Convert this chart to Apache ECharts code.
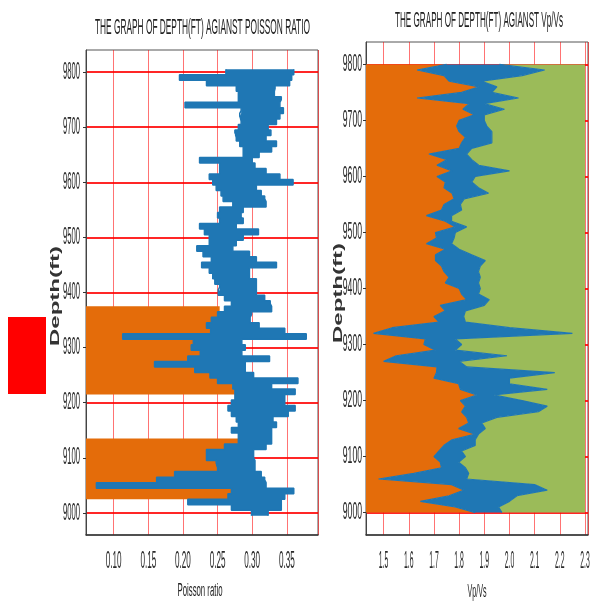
<!DOCTYPE html>
<html><head><meta charset="utf-8">
<script src="https://cdn.jsdelivr.net/npm/echarts@6/dist/echarts.min.js"></script>
<style>html,body{margin:0;padding:0;background:#fff}#c{width:590px;height:606px}</style>
</head><body><div id="c"></div><script>
// ---- data ----
const AXIS_DEPTHS = [8960,8970,8980,8990,9000,9010,9020,9030,9040,9050,9060,9070,9080,9090,9100,9110,9120,9130,9140,9150,9160,9170,9180,9190,9200,9210,9220,9230,9240,9250,9260,9270,9280,9290,9300,9310,9320,9330,9340,9350,9360,9370,9380,9390,9400,9410,9420,9430,9440,9450,9460,9470,9480,9490,9500,9510,9520,9530,9540,9550,9560,9570,9580,9590,9600,9610,9620,9630,9640,9650,9660,9670,9680,9690,9700,9710,9720,9730,9740,9750,9760,9770,9780,9790,9800,9810,9820,9830,9840];
const DEPTH_TICKS = [9000,9100,9200,9300,9400,9500,9600,9700,9800];
const PR_TICKS = [0.10,0.15,0.20,0.25,0.30,0.35];
const VPVS_TICKS = [1.5,1.6,1.7,1.8,1.9,2.0,2.1,2.2,2.3];

const DEPTHS = [9800,9790,9780,9770,9760,9750,9740,9730,9720,9710,9700,9690,9680,9670,9660,9650,9640,9630,9620,9610,9600,9590,9580,9570,9560,9550,9540,9530,9520,9510,9500,9490,9480,9470,9460,9450,9440,9430,9420,9410,9400,9390,9380,9370,9360,9350,9340,9330,9320,9310,9300,9290,9280,9270,9260,9250,9240,9230,9220,9210,9200,9190,9180,9170,9160,9150,9140,9130,9120,9110,9100,9090,9080,9070,9060,9050,9040,9030,9020,9010,9000];

const PR_LOW = [0.262,0.195,0.234,0.277,0.280,0.280,0.203,0.284,0.282,0.284,
 0.280,0.275,0.277,0.282,0.287,0.287,0.224,0.253,0.253,0.238,
 0.243,0.248,0.255,0.258,0.272,0.253,0.250,0.253,0.224,0.231,
 0.238,0.238,0.220,0.229,0.241,0.227,0.238,0.243,0.246,0.253,
 0.251,0.260,0.270,0.260,0.250,0.241,0.234,0.240,0.113,0.215,
 0.212,0.225,0.207,0.159,0.217,0.239,0.250,0.272,0.275,0.275,
 0.270,0.265,0.270,0.277,0.280,0.270,0.280,0.280,0.260,0.234,
 0.234,0.248,0.250,0.188,0.162,0.075,0.270,0.265,0.207,0.270,
 0.299];
const PR_HIGH = [0.360,0.357,0.354,0.333,0.332,0.342,0.340,0.345,0.340,0.335,
 0.323,0.327,0.320,0.335,0.328,0.310,0.300,0.304,0.320,0.340,
 0.359,0.306,0.313,0.318,0.320,0.287,0.284,0.287,0.277,0.309,
 0.287,0.277,0.272,0.296,0.306,0.335,0.296,0.296,0.306,0.306,
 0.306,0.318,0.326,0.328,0.299,0.297,0.310,0.347,0.378,0.285,
 0.290,0.285,0.325,0.290,0.290,0.302,0.366,0.328,0.362,0.347,
 0.347,0.362,0.352,0.330,0.335,0.328,0.328,0.328,0.320,0.302,
 0.302,0.304,0.304,0.313,0.318,0.320,0.360,0.347,0.342,0.342,
 0.323];
const PR_FILL_DEPTHS = [9370,9360,9350,9340,9330,9320,9310,9300,9290,9280,9270,9260,9250,9240,9230,9220,
 9130,9120,9110,9100,9090,9080,9070,9060,9050,9040,9030];
const PR_FILL = [0.253,0.250,0.241,0.234,0.240,0.113,0.215,0.212,0.225,0.207,0.159,0.217,0.239,0.250,0.272,0.275,
 0.280,0.260,0.234,0.234,0.248,0.250,0.188,0.162,0.075,0.270,0.285];

const VPVS_LOW = [1.750,1.633,1.740,1.760,1.880,1.810,1.633,1.840,1.815,1.860,
 1.800,1.790,1.800,1.825,1.810,1.800,1.680,1.752,1.712,1.772,
 1.712,1.745,1.740,1.772,1.780,1.740,1.730,1.670,1.745,1.785,
 1.706,1.710,1.670,1.745,1.706,1.706,1.730,1.740,1.760,1.745,
 1.800,1.810,1.830,1.725,1.745,1.700,1.720,1.534,1.460,1.666,
 1.660,1.706,1.550,1.500,1.712,1.710,1.700,1.798,1.805,1.870,
 1.805,1.825,1.810,1.830,1.838,1.798,1.864,1.772,1.740,1.720,
 1.700,1.725,1.730,1.620,1.480,1.770,1.820,1.760,1.646,1.785,
 1.864];
const VPVS_HIGH = [1.960,2.140,2.050,1.890,1.950,1.930,2.036,1.900,1.980,1.900,
 1.900,1.910,1.930,1.930,1.930,1.850,1.830,1.850,1.878,2.000,
 1.864,1.850,1.877,1.917,1.820,1.805,1.810,1.770,1.770,1.830,
 1.785,1.780,1.770,1.800,1.850,1.904,1.884,1.877,1.884,1.877,
 1.884,1.877,1.920,1.900,1.825,1.818,1.825,2.000,2.250,1.785,
 1.810,1.785,1.990,1.800,1.830,2.180,2.000,2.000,2.150,1.937,
 2.050,2.150,2.115,1.950,1.890,1.904,1.877,1.864,1.864,1.810,
 1.825,1.798,1.825,1.838,1.830,2.100,2.150,2.030,2.000,1.957,
 1.970];
const VPVS_FILL_MAX = 2.3;

// ---- styles ----
const ORANGE = '#e46c0a', BLUE = '#1f77b4', GREEN = '#9bbb59';
const LABEL_FONT = '24px "Liberation Sans", Arial, sans-serif';

function onAxis(depths, values) {
  const m = new Map();
  depths.forEach((d, i) => m.set(d, values[i]));
  return AXIS_DEPTHS.map(d => (m.has(d) ? m.get(d) : null));
}
const isDepthTick = (i, v) => DEPTH_TICKS.indexOf(Number(v)) >= 0;

const measureCtx = document.createElement('canvas').getContext('2d');
function squeezed(text, cx, cy, font, targetLen, cross, rotation, align, fill) {
  measureCtx.font = font;
  const w = measureCtx.measureText(text).width;
  return { type: 'text', x: cx, y: cy, rotation: rotation || 0, scaleX: targetLen / w, scaleY: cross,
    silent: true, style: { text, font, fill: fill || '#222', align: align || 'center', verticalAlign: 'middle' } };
}
function squeezedScale(text, font, sx, x, y, align) {
  return { type: 'text', x, y, scaleX: sx, scaleY: 1, silent: true,
    style: { text, font, fill: '#2a2a2a', align, verticalAlign: 'middle' } };
}

function yAxisCfg(grid) {
  return {
    type: 'category', gridIndex: grid, data: AXIS_DEPTHS.map(String), boundaryGap: false,
    axisLine: { show: true, lineStyle: { color: '#444', width: 1 } },
    axisTick: { show: true, length: 3, interval: isDepthTick, lineStyle: { color: '#333' } },
    axisLabel: { show: false, interval: isDepthTick },
    splitLine: { show: true, interval: isDepthTick, lineStyle: { color: 'rgba(255,0,0,0.85)', width: 2 } }
  };
}
function xAxisCfg(grid, min, max, split) {
  return {
    type: 'value', gridIndex: grid, min, max, splitNumber: split,
    axisLine: { show: true, onZero: false, lineStyle: { color: '#333', width: 1.5 } },
    axisTick: { show: false },
    axisLabel: { show: false },
    splitLine: { show: true, lineStyle: { color: 'rgba(255,0,0,0.55)', width: 1 } }
  };
}

const lineBase = { type: 'line', symbol: 'none', showSymbol: false, smooth: false, connectNulls: false, silent: true };

const chart = echarts.init(document.getElementById('c'), null, { renderer: 'canvas' });
chart.setOption({
  animation: false,
  backgroundColor: '#fff',
  grid: [
    { left: 86, top: 50, width: 232, height: 485, show: true, borderColor: '#555', borderWidth: 1 },
    { left: 366, top: 42, width: 222, height: 493, show: true, borderColor: '#555', borderWidth: 1 }
  ],
  xAxis: [xAxisCfg(0, 0.06, 0.395, 7), xAxisCfg(1, 1.43, 2.312, 9)],
  yAxis: [yAxisCfg(0), yAxisCfg(1)],
  series: [
    Object.assign({}, lineBase, { name: 'pr-fill', xAxisIndex: 0, yAxisIndex: 0, z: 2, step: 'middle',
      data: onAxis(PR_FILL_DEPTHS, PR_FILL), lineStyle: { opacity: 0 },
      areaStyle: { color: ORANGE, opacity: 1, origin: 'start' } }),
    Object.assign({}, lineBase, { name: 'pr-low', xAxisIndex: 0, yAxisIndex: 0, z: 3, stack: 'pr', step: 'middle',
      data: onAxis(DEPTHS, PR_LOW), lineStyle: { color: BLUE, width: 1.5 } }),
    Object.assign({}, lineBase, { name: 'pr-band', xAxisIndex: 0, yAxisIndex: 0, z: 3, stack: 'pr', step: 'middle',
      data: onAxis(DEPTHS, PR_HIGH.map((u, i) => +(u - PR_LOW[i]).toFixed(4))),
      lineStyle: { color: BLUE, width: 1.5 }, areaStyle: { color: BLUE, opacity: 1 } }),
    Object.assign({}, lineBase, { name: 'vr-low', xAxisIndex: 1, yAxisIndex: 1, z: 3, stack: 'vr',
      data: onAxis(DEPTHS, VPVS_LOW), lineStyle: { color: BLUE, width: 1.2 },
      areaStyle: { color: ORANGE, opacity: 1, origin: 'start' } }),
    Object.assign({}, lineBase, { name: 'vr-band', xAxisIndex: 1, yAxisIndex: 1, z: 3, stack: 'vr',
      data: onAxis(DEPTHS, VPVS_HIGH.map((u, i) => +(u - VPVS_LOW[i]).toFixed(4))),
      lineStyle: { color: BLUE, width: 1.2 }, areaStyle: { color: BLUE, opacity: 1 } }),
    Object.assign({}, lineBase, { name: 'vr-high', xAxisIndex: 1, yAxisIndex: 1, z: 3, stack: 'vr',
      data: onAxis(DEPTHS, VPVS_HIGH.map(u => +(VPVS_FILL_MAX - u).toFixed(4))),
      lineStyle: { opacity: 0 }, areaStyle: { color: GREEN, opacity: 1 } })
  ]
});

// ---- tick labels: real text placed on the axes' own scales ----
const labels = [];
const g0 = [86, 50, 232, 485], g1 = [366, 42, 222, 493];
DEPTH_TICKS.forEach(d => {
  const idx = AXIS_DEPTHS.indexOf(d);
  const p0 = chart.convertToPixel({ gridIndex: 0 }, [0.2, idx]);
  const p1 = chart.convertToPixel({ gridIndex: 1 }, [1.8, idx]);
  labels.push(squeezedScale(String(d), LABEL_FONT, 0.32, g0[0] - 6, p0[1], 'right'));
  labels.push(squeezedScale(String(d), LABEL_FONT, 0.36, g1[0] - 4, p1[1], 'right'));
});
PR_TICKS.forEach(t => {
  const p = chart.convertToPixel({ gridIndex: 0 }, [t, 0]);
  labels.push(squeezedScale(t.toFixed(2), LABEL_FONT, 0.34, p[0], 561, 'center'));
});
VPVS_TICKS.forEach(t => {
  const p = chart.convertToPixel({ gridIndex: 1 }, [t, 0]);
  labels.push(squeezedScale(t.toFixed(1), LABEL_FONT, 0.285, p[0], 561, 'center'));
});

chart.setOption({
  graphic: labels.concat([
    squeezed('THE GRAPH OF DEPTH(FT) AGIANST POISSON RATIO', 202.5, 28, '22px "Liberation Sans"', 215, 1, 0),
    squeezed('THE GRAPH OF DEPTH(FT) AGIANST Vp/Vs', 479, 21, '22px "Liberation Sans"', 168, 1, 0),
    squeezed('Depth(ft)', 56, 296, 'bold 20px "Liberation Sans"', 100, 0.62, Math.PI / 2, 'center', '#333'),
    squeezed('Depth(ft)', 339, 293, 'bold 20px "Liberation Sans"', 100, 0.62, Math.PI / 2, 'center', '#333'),
    squeezed('Poisson ratio', 200, 591, '18px "Liberation Sans"', 45, 1, 0),
    squeezed('Vp/Vs', 477, 592, '18px "Liberation Sans"', 19, 1, 0),
    { type: 'rect', shape: { x: 8, y: 317, width: 38, height: 77 }, style: { fill: '#ff0000' }, silent: true }
  ])
});
</script></body></html>
